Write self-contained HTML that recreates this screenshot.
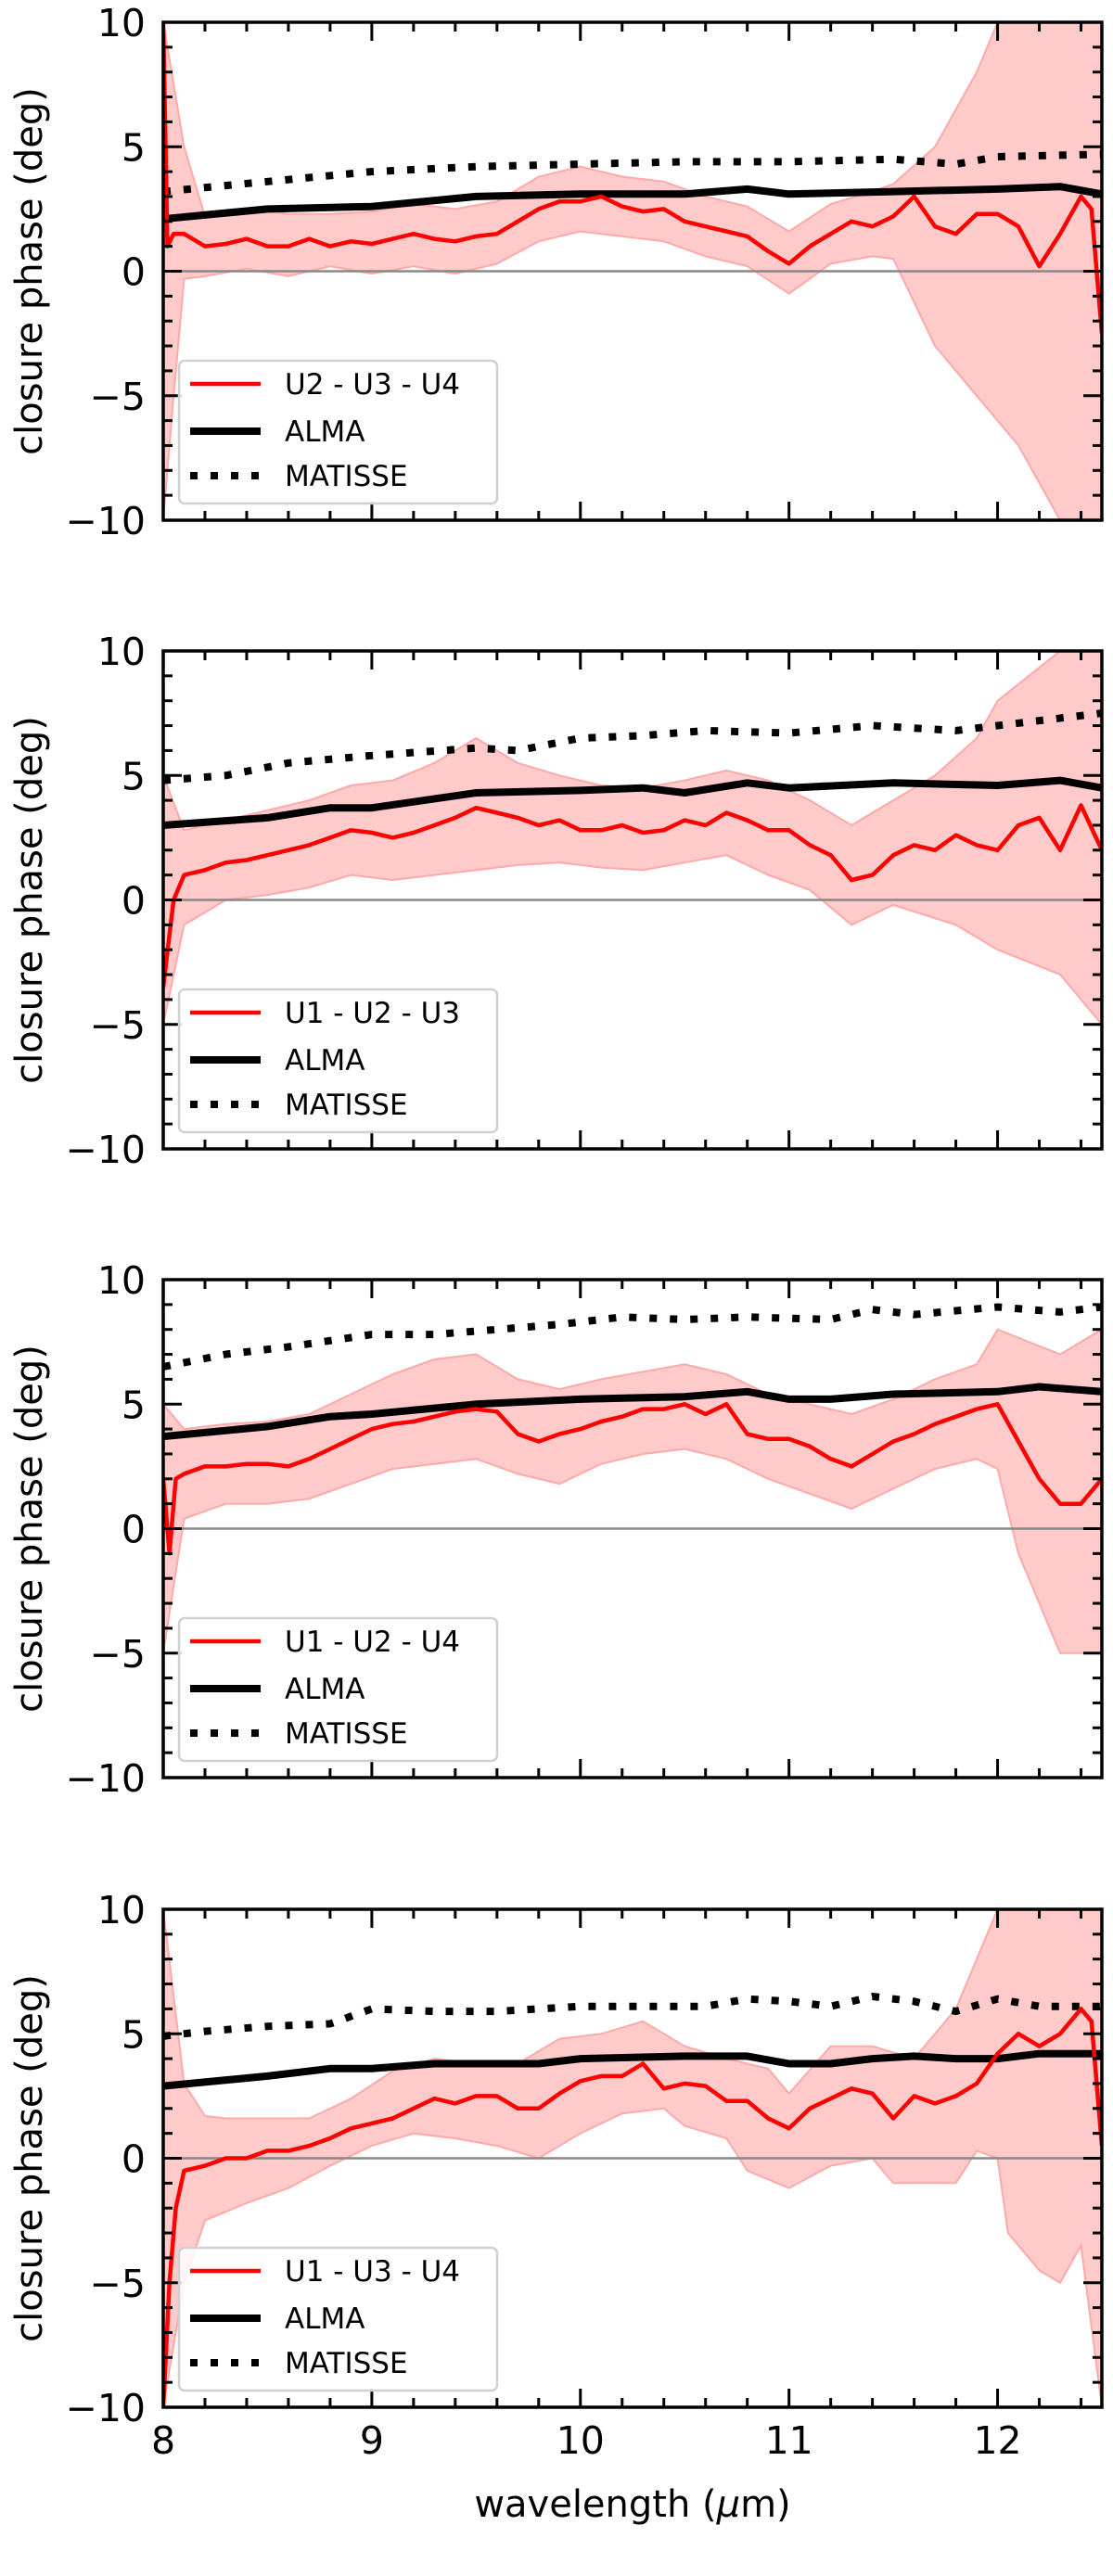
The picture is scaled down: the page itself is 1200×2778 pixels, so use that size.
<!DOCTYPE html>
<html><head><meta charset="utf-8"><style>
html,body{margin:0;padding:0;background:#fff;}
svg{display:block;font-family:"DejaVu Sans","Liberation Sans",sans-serif;}
</style></head><body>
<svg id="chart" width="1200" height="2778" viewBox="0 0 1200 2778"></svg>
<script>
// ---------- data ----------
const panelNames = ["U2 - U3 - U4","U1 - U2 - U3","U1 - U2 - U4","U1 - U3 - U4"];
const xTicks = [8,9,10,11,12];
const yTicks = [-10,-5,0,5,10];

const p1RedX = [8.0,8.02,8.05,8.1,8.2,8.3,8.4,8.5,8.6,8.7,8.8,8.9,9.0,9.1,9.2,9.3,9.4,9.5,9.6,9.7,9.8,9.9,10.0,10.1,10.2,10.3,10.4,10.5,10.6,10.7,10.8,10.9,11.0,11.1,11.2,11.3,11.4,11.5,11.6,11.7,11.8,11.9,12.0,12.1,12.2,12.3,12.4,12.45,12.5];
const p1RedY = [10,1,1.5,1.5,1.0,1.1,1.3,1.0,1.0,1.3,1.0,1.2,1.1,1.3,1.5,1.3,1.2,1.4,1.5,2.0,2.5,2.8,2.8,3.0,2.6,2.4,2.5,2.0,1.8,1.6,1.4,0.8,0.3,1.0,1.5,2.0,1.8,2.2,3.0,1.8,1.5,2.3,2.3,1.8,0.2,1.5,3.0,2.5,-2.5];
const p1UpX = [8.0,8.1,8.2,8.4,8.6,8.8,9.0,9.2,9.4,9.6,9.8,10.0,10.2,10.4,10.6,10.8,11.0,11.2,11.4,11.5,11.7,11.9,12.0,12.5];
const p1UpY = [10,5,2.2,2.5,2.3,2.3,2.4,2.7,2.5,2.8,3.8,4.2,3.8,3.6,3.0,2.6,1.6,2.7,3.2,3.5,5,8,10,10];
const p1LoX = [8.0,8.05,8.1,8.2,8.4,8.6,8.8,9.0,9.2,9.4,9.6,9.8,10.0,10.2,10.4,10.6,10.8,11.0,11.2,11.4,11.5,11.7,11.9,12.1,12.3,12.5];
const p1LoY = [-10,-5,-0.3,-0.2,0.1,-0.2,0.2,-0.1,0.2,-0.1,0.3,1.2,1.6,1.4,1.2,0.6,0.2,-0.9,0.3,0.6,0.5,-3,-5,-7,-10,-10];
const p1AlmaX = [8.0,8.5,9.0,9.5,10.0,10.5,10.8,11.0,11.5,12.0,12.3,12.5];
const p1AlmaY = [2.1,2.5,2.6,3.0,3.1,3.1,3.3,3.1,3.2,3.3,3.4,3.1];
const p1MatX = [8.0,8.5,9.0,9.5,10.0,10.5,11.0,11.5,11.8,12.0,12.5];
const p1MatY = [3.2,3.6,4.0,4.2,4.3,4.4,4.4,4.5,4.3,4.6,4.7];

const p2RedX = [8.0,8.05,8.1,8.2,8.3,8.4,8.5,8.6,8.7,8.8,8.9,9.0,9.1,9.2,9.3,9.4,9.5,9.6,9.7,9.8,9.9,10.0,10.1,10.2,10.3,10.4,10.5,10.6,10.7,10.8,10.9,11.0,11.1,11.2,11.3,11.4,11.5,11.6,11.7,11.8,11.9,12.0,12.1,12.2,12.3,12.4,12.5];
const p2RedY = [-3.5,0,1,1.2,1.5,1.6,1.8,2.0,2.2,2.5,2.8,2.7,2.5,2.7,3.0,3.3,3.7,3.5,3.3,3.0,3.2,2.8,2.8,3.0,2.7,2.8,3.2,3.0,3.5,3.2,2.8,2.8,2.2,1.8,0.8,1.0,1.8,2.2,2.0,2.6,2.2,2.0,3.0,3.3,2.0,3.8,2.0];
const p2UpX = [8.0,8.1,8.3,8.5,8.7,8.9,9.1,9.3,9.5,9.7,9.9,10.1,10.3,10.5,10.7,10.9,11.1,11.3,11.5,11.7,11.9,12.0,12.3,12.5];
const p2UpY = [5,2.8,3.2,3.6,4.0,4.6,4.8,5.5,6.5,5.5,5.0,4.6,4.5,4.8,5.2,4.8,4.0,3.0,4.0,5.0,6.5,8,10,10];
const p2LoX = [8.0,8.1,8.3,8.5,8.7,8.9,9.1,9.3,9.5,9.7,9.9,10.1,10.3,10.5,10.7,10.9,11.1,11.3,11.5,11.8,12.0,12.3,12.5];
const p2LoY = [-5,-1,0,0.2,0.5,1.0,0.8,1.0,1.2,1.4,1.5,1.3,1.2,1.5,1.8,1.0,0.4,-1.0,-0.2,-1,-2,-3,-5];
const p2AlmaX = [8.0,8.5,8.8,9.0,9.5,10.0,10.3,10.5,10.8,11.0,11.5,12.0,12.3,12.5];
const p2AlmaY = [3.0,3.3,3.7,3.7,4.3,4.4,4.5,4.3,4.7,4.5,4.7,4.6,4.8,4.5];
const p2MatX = [8.0,8.3,8.6,9.0,9.5,9.7,10.0,10.3,10.6,11.0,11.4,11.8,12.0,12.5];
const p2MatY = [4.8,5.0,5.5,5.8,6.1,6.0,6.5,6.6,6.8,6.7,7.0,6.8,7.0,7.5];

const p3RedX = [8.0,8.03,8.06,8.1,8.2,8.3,8.4,8.5,8.6,8.7,8.8,8.9,9.0,9.1,9.2,9.3,9.4,9.5,9.6,9.7,9.8,9.9,10.0,10.1,10.2,10.3,10.4,10.5,10.6,10.7,10.8,10.9,11.0,11.1,11.2,11.3,11.4,11.5,11.6,11.7,11.8,11.9,12.0,12.1,12.2,12.3,12.4,12.5];
const p3RedY = [2,-1,2,2.2,2.5,2.5,2.6,2.6,2.5,2.8,3.2,3.6,4.0,4.2,4.3,4.5,4.7,4.8,4.7,3.8,3.5,3.8,4.0,4.3,4.5,4.8,4.8,5.0,4.6,5.0,3.8,3.6,3.6,3.3,2.8,2.5,3.0,3.5,3.8,4.2,4.5,4.8,5.0,3.5,2.0,1.0,1.0,2.0];
const p3UpX = [8.0,8.1,8.3,8.5,8.7,8.9,9.1,9.3,9.5,9.7,9.9,10.1,10.3,10.5,10.7,10.9,11.1,11.3,11.5,11.7,11.9,12.0,12.3,12.5];
const p3UpY = [5,4.0,4.2,4.3,4.6,5.4,6.2,6.8,7.0,6.0,5.6,6.0,6.3,6.6,6.2,5.4,5.0,4.6,5.2,6.0,6.6,8,7,8];
const p3LoX = [8.0,8.1,8.3,8.5,8.7,8.9,9.1,9.3,9.5,9.7,9.9,10.1,10.3,10.5,10.7,10.9,11.1,11.3,11.5,11.7,11.9,12.0,12.1,12.3,12.5];
const p3LoY = [-5,0.4,1.0,1.0,1.2,1.8,2.4,2.6,2.8,2.2,1.8,2.6,3.0,3.2,2.8,2.0,1.4,0.8,1.6,2.4,2.8,2.4,-1,-5,-5];
const p3AlmaX = [8.0,8.5,8.8,9.0,9.5,10.0,10.5,10.8,11.0,11.2,11.5,12.0,12.2,12.5];
const p3AlmaY = [3.7,4.1,4.5,4.6,5.0,5.2,5.3,5.5,5.2,5.2,5.4,5.5,5.7,5.5];
const p3MatX = [8.0,8.3,8.6,9.0,9.3,9.6,9.9,10.2,10.5,10.8,11.2,11.4,11.6,12.0,12.3,12.5];
const p3MatY = [6.5,7.0,7.3,7.8,7.8,8.0,8.2,8.5,8.4,8.5,8.4,8.8,8.6,8.9,8.7,8.9];

const p4RedX = [8.0,8.03,8.06,8.1,8.2,8.3,8.4,8.5,8.6,8.7,8.8,8.9,9.0,9.1,9.2,9.3,9.4,9.5,9.6,9.7,9.8,9.9,10.0,10.1,10.2,10.3,10.4,10.5,10.6,10.7,10.8,10.9,11.0,11.1,11.2,11.3,11.4,11.5,11.6,11.7,11.8,11.9,12.0,12.1,12.2,12.3,12.4,12.45,12.5];
const p4RedY = [-10,-5,-2,-0.5,-0.3,0,0,0.3,0.3,0.5,0.8,1.2,1.4,1.6,2.0,2.4,2.2,2.5,2.5,2.0,2.0,2.6,3.1,3.3,3.3,3.8,2.8,3.0,2.9,2.3,2.3,1.6,1.2,2.0,2.4,2.8,2.6,1.6,2.5,2.2,2.5,3.0,4.2,5.0,4.5,5.0,6.0,5.5,0.5];
const p4UpX = [8.0,8.1,8.2,8.3,8.5,8.7,8.9,9.1,9.3,9.5,9.7,9.9,10.1,10.3,10.5,10.7,10.9,11.0,11.2,11.4,11.6,11.8,11.9,12.0,12.5];
const p4UpY = [10,3,1.7,1.6,1.6,1.6,2.4,3.5,4.0,3.8,3.8,4.8,5.0,5.5,4.5,4.0,3.6,2.6,4.5,4.5,4.0,6.0,8.0,10,10];
const p4LoX = [8.0,8.1,8.2,8.4,8.6,8.8,9.0,9.2,9.4,9.6,9.8,10.0,10.2,10.4,10.5,10.7,10.8,11.0,11.2,11.4,11.5,11.8,11.9,12.0,12.05,12.2,12.3,12.4,12.5];
const p4LoY = [-10,-5,-2.5,-1.8,-1.2,-0.3,0.5,1.0,0.8,0.5,0,1.0,1.8,2.0,1.3,0.8,-0.5,-1.2,-0.3,0,-1.0,-1.0,0.3,0,-3,-4.5,-5,-3.5,-10];
const p4AlmaX = [8.0,8.5,8.8,9.0,9.3,9.6,9.8,10.0,10.5,10.8,11.0,11.2,11.4,11.6,11.8,12.0,12.2,12.5];
const p4AlmaY = [2.9,3.3,3.6,3.6,3.8,3.8,3.8,4.0,4.1,4.1,3.8,3.8,4.0,4.1,4.0,4.0,4.2,4.2];
const p4MatX = [8.0,8.2,8.5,8.8,9.0,9.3,9.6,10.0,10.3,10.6,10.8,11.0,11.2,11.4,11.6,11.8,12.0,12.2,12.5];
const p4MatY = [4.9,5.1,5.3,5.4,6.0,5.9,5.9,6.1,6.1,6.1,6.4,6.3,6.1,6.5,6.3,5.9,6.4,6.1,6.1];

const panels = [
 {redX:p1RedX,redY:p1RedY,upX:p1UpX,upY:p1UpY,loX:p1LoX,loY:p1LoY,almaX:p1AlmaX,almaY:p1AlmaY,matX:p1MatX,matY:p1MatY},
 {redX:p2RedX,redY:p2RedY,upX:p2UpX,upY:p2UpY,loX:p2LoX,loY:p2LoY,almaX:p2AlmaX,almaY:p2AlmaY,matX:p2MatX,matY:p2MatY},
 {redX:p3RedX,redY:p3RedY,upX:p3UpX,upY:p3UpY,loX:p3LoX,loY:p3LoY,almaX:p3AlmaX,almaY:p3AlmaY,matX:p3MatX,matY:p3MatY},
 {redX:p4RedX,redY:p4RedY,upX:p4UpX,upY:p4UpY,loX:p4LoX,loY:p4LoY,almaX:p4AlmaX,almaY:p4AlmaY,matX:p4MatX,matY:p4MatY}
];

// ---------- layout ----------
const NS = "http://www.w3.org/2000/svg";
const svg = document.getElementById("chart");
const L = 176, R = 1188, H = 537;
const tops = [24, 702, 1380, 2059];
const xMin = 8, xMax = 12.5, yMin = -10, yMax = 10;
function el(tag, attrs, parent){
  const e = document.createElementNS(NS, tag);
  for (const k in attrs) e.setAttribute(k, attrs[k]);
  (parent||svg).appendChild(e);
  return e;
}
const defs = el("defs", {});

panels.forEach((p, i) => {
  const T = tops[i], B = T + H;
  const sx = v => L + (v - xMin) / (xMax - xMin) * (R - L);
  const sy = v => B - (v - yMin) / (yMax - yMin) * H;
  const g = el("g", {});
  
  

  const cp = el("clipPath", {id: "clip" + i}, defs);
  el("rect", {x: L, y: T, width: R - L, height: H}, cp);
  const plot = el("g", {"clip-path": "url(#clip" + i + ")"}, g);

  // band
  let pts = p.upX.map((x, k) => sx(x).toFixed(1) + "," + sy(p.upY[k]).toFixed(1));
  for (let k = p.loX.length - 1; k >= 0; k--) pts.push(sx(p.loX[k]).toFixed(1) + "," + sy(p.loY[k]).toFixed(1));
  const band = el("polygon", {points: pts.join(" "), fill: "#ffcaca", stroke: "#ffa9a9", "stroke-width": 2}, plot);
  
  

  // zero line
  const zl = el("line", {x1: L, x2: R, y1: sy(0), y2: sy(0), stroke: "#888", "stroke-width": 2.5}, plot);
  
  

  const line = (xs, ys, attrs, name) => {
    const d = xs.map((x, k) => (k ? "L" : "M") + sx(x).toFixed(1) + "," + sy(ys[k]).toFixed(1)).join("");
    const e = el("path", Object.assign({d: d, fill: "none", "stroke-linejoin": "round"}, attrs), plot);
    
    
  };
  line(p.matX, p.matY, {stroke: "#000", "stroke-width": 8, "stroke-dasharray": "8 14"}, "matisse-line");
  line(p.almaX, p.almaY, {stroke: "#000", "stroke-width": 8}, "alma-line");
  line(p.redX, p.redY, {stroke: "#f00", "stroke-width": 4.5}, "closure-phase-line");

  // ticks
  for (let v = 8; v <= 12.5 + 1e-9; v += 0.2) {
    const major = Math.abs(v - Math.round(v)) < 1e-6;
    const len = major ? 20 : 10;
    const x = sx(v);
    el("line", {x1: x, x2: x, y1: B, y2: B - len, stroke: "#000", "stroke-width": 3}, g);
    el("line", {x1: x, x2: x, y1: T, y2: T + len, stroke: "#000", "stroke-width": 3}, g);
  }
  for (let v = -10; v <= 10; v += 1) {
    const major = v % 5 === 0;
    const len = major ? 20 : 10;
    const y = sy(v);
    el("line", {x1: L, x2: L + len, y1: y, y2: y, stroke: "#000", "stroke-width": 3}, g);
    el("line", {x1: R, x2: R - len, y1: y, y2: y, stroke: "#000", "stroke-width": 3}, g);
  }
  yTicks.forEach(v => {
    const t = el("text", {x: 157, y: sy(v) + 15, "text-anchor": "end", "font-size": 41, fill: "#000"}, g);
    t.textContent = v < 0 ? "\u2212" + Math.abs(v) : String(v);
    
    
  });
  const frame = el("rect", {x: L, y: T, width: R - L, height: H, fill: "none", stroke: "#000", "stroke-width": 3.5}, g);
  
  

  const yl = el("text", {x: 0, y: 0, transform: "translate(45," + (T + H/2) + ") rotate(-90)", "text-anchor": "middle", "font-size": 40, fill: "#000"}, g);
  yl.textContent = "closure phase (deg)";
  
  

  // legend
  const lg = el("g", {}, g);
  
  
  el("rect", {x: 193, y: T + 365, width: 343, height: 154, rx: 6, fill: "#fff", "fill-opacity": 0.85, stroke: "#d0d0d0", "stroke-width": 2.5}, lg);
  const entries = [
    {label: panelNames[i], stroke: "#f00", w: 4.5, dash: null, dy: 390},
    {label: "ALMA", stroke: "#000", w: 8, dash: null, dy: 441},
    {label: "MATISSE", stroke: "#000", w: 8, dash: "8 14", dy: 489}
  ];
  entries.forEach(e => {
    const a = {x1: 205, x2: 281, y1: T + e.dy, y2: T + e.dy, stroke: e.stroke, "stroke-width": e.w};
    if (e.dash) a["stroke-dasharray"] = e.dash;
    el("line", a, lg);
    const t = el("text", {x: 307, y: T + e.dy + 11, "font-size": 31, fill: "#000"}, lg);
    t.textContent = e.label;
    
    
  });

  if (i === 3) {
    xTicks.forEach(v => {
      const t = el("text", {x: sx(v), y: B + 50, "text-anchor": "middle", "font-size": 41, fill: "#000"}, g);
      t.textContent = String(v);
      
      
    });
    const xl = el("text", {x: (L + R) / 2, y: B + 118, "text-anchor": "middle", "font-size": 40, fill: "#000"}, g);
    xl.innerHTML = 'wavelength (<tspan font-style="italic">\u03bc</tspan>m)';
    
    
  }
});
</script>
</body></html>
